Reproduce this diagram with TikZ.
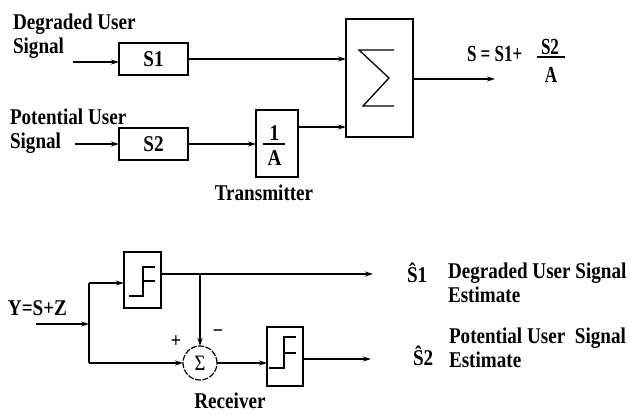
\documentclass[tikz,border=0pt]{standalone}
\usepackage{fontspec}
\setmainfont{Liberation Serif}[FakeStretch=0.85]
\newfontfamily\fmlfont{Liberation Serif}[FakeStretch=0.74]
\usetikzlibrary{arrows.meta}
\begin{document}
\begin{tikzpicture}[x=1pt,y=-1pt,
  every node/.style={font=\bfseries\fontsize{22.5}{24}\selectfont, inner sep=0pt, outer sep=0pt},
  blk/.style={draw, line width=1.5pt},
  arr/.style={line width=1.2pt, -{Stealth[length=8pt,width=5pt]}},
  wire/.style={line width=1.2pt},
  sigline/.style={line width=1.3pt},
  fml/.style={font=\fmlfont\bfseries\fontsize{23}{24}\selectfont},
  lbl/.style={align=left, anchor=north west}
]
\useasboundingbox (0,0) rectangle (631,414);

% ---------- Transmitter ----------
\node[lbl] (dlab) at (13,14) {Degraded User\\Signal};
\node[lbl] (plab) at (10,109) {Potential User\\Signal};

\node[blk, minimum width=69pt, minimum height=32pt] (s1) at (153.5,59) {S1};
\node[blk, minimum width=69pt, minimum height=32pt] (s2) at (153.5,144) {S2};
\node[blk, minimum width=42pt, minimum height=67pt] (inva) at (277,143.5) {};
\node[anchor=base] (one) at (274.5,141) {1};
\node[anchor=base] (aa) at (274.5,165) {A};
\draw[line width=1.2pt] (263,144) -- (285,144);

\node[blk, minimum width=67pt, minimum height=118pt] (sum) at (379.5,78) {};
\draw[sigline] (394,50) -- (359,50) -- (389,78) -- (363,106) -- (394,106);

\coordinate (in1) at (73,62);
\coordinate (in2) at (75,144);
\coordinate (sout) at (495,79);

\draw[arr] (in1) -- (in1 -| s1.west);
\draw[arr] (in2) -- (in2 -| s2.west);
\draw[arr] (s1.east) -- (s1.east -| sum.west);
\draw[arr] (s2.east) -- (s2.east -| inva.west);
\draw[arr] ([yshift=16.5pt]inva.east) -- ([yshift=16.5pt]inva.east -| sum.west);
\draw[arr] (sum.east |- sout) -- (sout);

\node[fml, anchor=base west] (eqs) at (467,62) {S = S1+};
\node[fml, anchor=base] (eqn) at (550,55) {S2};
\node[fml, anchor=base] (eqd) at (551,83) {A};
\draw[line width=1.2pt] (537,57) -- (565,57);

\node[anchor=base] (tx) at (264,200) {Transmitter};

% ---------- Receiver ----------
\node[anchor=base west] (ylab) at (8,315) {Y=S+Z};
\coordinate (yin) at (36,324);
\coordinate (j) at (89,324);
\coordinate (jt) at (89,283);
\coordinate (jb) at (89,363);

\node[blk, minimum width=37pt, minimum height=56pt] (th1) at (142.5,280) {};
\draw[sigline] (129,296) -- (143,296) -- (143,267) -- (155,267);
\draw[sigline] (143,281) -- (155,281);

\node[draw, circle, line width=1.2pt, dash pattern=on 6pt off 1.5pt, minimum size=34pt] (sig) at (200,363) {\mdseries\fontsize{22}{22}\selectfont Σ};

\node[blk, minimum width=36pt, minimum height=59pt] (th2) at (285,356.5) {};
\draw[sigline] (269,368) -- (284,368) -- (284,337) -- (296,337);
\draw[sigline] (284,353) -- (296,353);

\coordinate (o1) at (373,274);
\coordinate (o2) at (371,359);
\coordinate (tap) at (200,274);

\draw[arr] (yin) -- (j);
\draw[wire] (jt) -- (jb);
\draw[arr] (jt) -- (jt -| th1.west);
\draw[arr] (jb) -- (sig.west);
\draw[arr] (th1.east |- o1) -- (o1);
\draw[arr] (tap) -- (sig.north);
\draw[arr] (sig.east) -- (sig.east -| th2.west);
\draw[arr] (th2.east |- o2) -- (o2);

\node[font=\bfseries\fontsize{21}{21}\selectfont] (plus) at (176,342) {+};
\node[font=\bfseries\fontsize{21}{21}\selectfont] (minus) at (218,334) {−};

\node[anchor=base] (rx) at (230,408) {Receiver};

\node[anchor=base west] (e1hat) at (407,282) {\^{S}1};
\node[lbl] (e1txt) at (448,263) {Degraded User Signal\\Estimate};
\node[lbl] (e2txt) at (449,328) {Potential User\ \ Signal\\Estimate};
\node[anchor=base west] (e2hat) at (413,365) {\^{S}2};
\end{tikzpicture}
\end{document}
